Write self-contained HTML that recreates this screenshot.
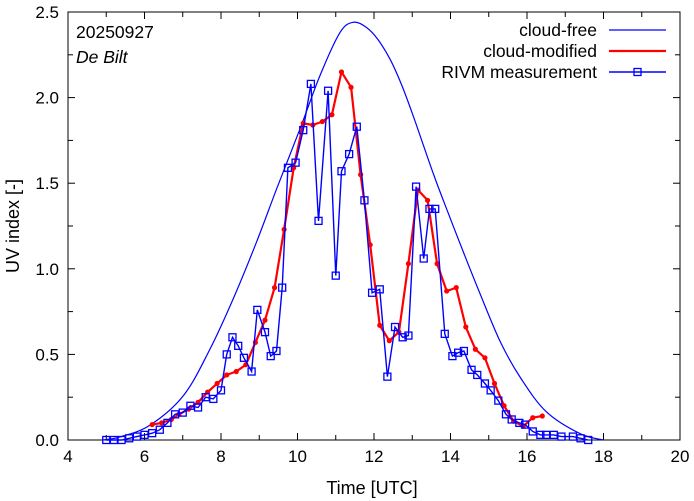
<!DOCTYPE html>
<html><head><meta charset="utf-8"><style>
body{margin:0;background:#fff}
svg{display:block;font-family:"Liberation Sans",sans-serif}
</style></head><body>
<svg id="c" width="694" height="501"></svg>
<script>
const clearT=[4.9,5.36,6.14,7.02,7.71,8.32,8.93,9.46,10.07,10.59,11.11,11.46,11.8,12.1,12.43,12.73,13.03,13.56,13.95,14.35,14.79,15.31,15.84,16.51,17.39,18.0];
const clearV=[0.0,0.018,0.086,0.26,0.53,0.825,1.157,1.47,1.82,2.13,2.38,2.44,2.41,2.34,2.22,2.07,1.89,1.55,1.32,1.09,0.845,0.57,0.36,0.164,0.037,0.0];
const modT=[6.2,6.45,6.7,6.9,7.15,7.4,7.65,7.9,8.15,8.4,8.65,8.9,9.15,9.4,9.65,9.9,10.15,10.4,10.65,10.9,11.15,11.4,11.65,11.9,12.15,12.4,12.65,12.9,13.15,13.4,13.65,13.9,14.15,14.4,14.65,14.9,15.15,15.4,15.65,15.9,16.15,16.4];
const modV=[0.09,0.10,0.12,0.15,0.18,0.22,0.28,0.33,0.38,0.40,0.44,0.57,0.70,0.89,1.23,1.59,1.85,1.84,1.86,1.90,2.15,2.06,1.55,1.14,0.67,0.58,0.63,1.03,1.46,1.40,1.03,0.87,0.89,0.66,0.53,0.48,0.33,0.20,0.11,0.08,0.13,0.14];
const measT=[5.0,5.2,5.4,5.6,5.8,6.0,6.2,6.4,6.6,6.8,7.0,7.2,7.4,7.6,7.8,8.0,8.15,8.3,8.45,8.6,8.8,8.95,9.15,9.3,9.45,9.6,9.75,9.95,10.15,10.35,10.55,10.8,11.0,11.15,11.35,11.55,11.75,11.95,12.15,12.35,12.55,12.75,12.9,13.1,13.3,13.45,13.6,13.85,14.05,14.2,14.35,14.55,14.7,14.9,15.05,15.25,15.45,15.6,15.8,15.95,16.15,16.35,16.5,16.7,16.9,17.2,17.4,17.6];
const measV=[0.0,0.0,0.0,0.01,0.02,0.03,0.04,0.06,0.10,0.15,0.16,0.20,0.19,0.25,0.24,0.29,0.50,0.60,0.55,0.48,0.40,0.76,0.63,0.49,0.52,0.89,1.59,1.62,1.81,2.08,1.28,2.04,0.96,1.57,1.67,1.83,1.40,0.86,0.88,0.37,0.66,0.60,0.61,1.48,1.06,1.35,1.35,0.62,0.49,0.51,0.52,0.41,0.38,0.33,0.29,0.23,0.15,0.12,0.10,0.09,0.05,0.03,0.03,0.03,0.02,0.02,0.01,0.0];
const xTicks=[4,6,8,10,12,14,16,18,20];
const yTicks=[0,0.5,1,1.5,2,2.5];
const yLabels=["0.0","0.5","1.0","1.5","2.0","2.5"];

const L=68,R=680,T=12,B=440;
const X=t=>L+(t-4)/16*(R-L), Y=v=>B-v/2.5*(B-T);
const svg=document.getElementById('c'),NS='http://www.w3.org/2000/svg';
function mk(tag,at,parent){const e=document.createElementNS(NS,tag);for(const k in at)e.setAttribute(k,at[k]);(parent||svg).appendChild(e);return e;}

const frame=mk('rect',{x:L,y:T,width:R-L,height:B-T,fill:'none',stroke:'#000','stroke-width':1});



xTicks.forEach((t,i)=>{
  const g=mk('g',{});
  
  
  mk('line',{x1:X(t),x2:X(t),y1:B,y2:B-7,stroke:'#000'},g);
  mk('line',{x1:X(t),x2:X(t),y1:T,y2:T+7,stroke:'#000'},g);
  if(i<xTicks.length-1){const m=t+1;
    mk('line',{x1:X(m),x2:X(m),y1:B,y2:B-5,stroke:'#000'},g);
    mk('line',{x1:X(m),x2:X(m),y1:T,y2:T+5,stroke:'#000'},g);}
  const tx=mk('text',{x:X(t),y:B+22,'text-anchor':'middle','font-size':17},g);tx.textContent=t;
});
yTicks.forEach((v,i)=>{
  const g=mk('g',{});
  
  
  mk('line',{x1:L,x2:L+7,y1:Y(v),y2:Y(v),stroke:'#000'},g);
  mk('line',{x1:R,x2:R-7,y1:Y(v),y2:Y(v),stroke:'#000'},g);
  if(i<yTicks.length-1){const m=v+0.25;
    mk('line',{x1:L,x2:L+5,y1:Y(m),y2:Y(m),stroke:'#000'},g);
    mk('line',{x1:R,x2:R-5,y1:Y(m),y2:Y(m),stroke:'#000'},g);}
  const tx=mk('text',{x:L-9,y:Y(v)+6,'text-anchor':'end','font-size':17},g);tx.textContent=yLabels[i];
});
const xl=mk('text',{x:372,y:494,'text-anchor':'middle','font-size':18});xl.textContent='Time  [UTC]';


const yl=mk('text',{x:0,y:0,'text-anchor':'middle','font-size':18,transform:'translate(19,226) rotate(-90)'});yl.textContent='UV index  [-]';



const d1=mk('text',{x:76,y:38,'font-size':17.5});d1.textContent='20250927';


const d2=mk('text',{x:76,y:63,'font-size':17.5,'font-style':'italic'});d2.textContent='De Bilt';



function smooth(ts,vs){const p=ts.map((t,i)=>[X(t),Y(vs[i])]);let d='M'+p[0][0]+','+p[0][1];
  for(let i=0;i<p.length-1;i++){const a=p[i-1]||p[i],b=p[i],c=p[i+1],e=p[i+2]||c;
    d+=' C'+(b[0]+(c[0]-a[0])/6)+','+(b[1]+(c[1]-a[1])/6)+' '+(c[0]-(e[0]-b[0])/6)+','+(c[1]-(e[1]-b[1])/6)+' '+c[0]+','+c[1];}
  return d;}
const pts=(ts,vs)=>ts.map((t,i)=>X(t).toFixed(1)+','+Y(vs[i]).toFixed(1)).join(' ');
const cf=mk('path',{d:smooth(clearT,clearV),fill:'none',stroke:'#0000ff','stroke-width':1.2});


const cm=mk('polyline',{points:pts(modT,modV),fill:'none',stroke:'#ff0000','stroke-width':2.2,'stroke-linejoin':'round'});


modT.forEach((t,i)=>{const c=mk('circle',{cx:X(t),cy:Y(modV[i]),r:2.6,fill:'#ff0000'});
  
  });
const ml=mk('polyline',{points:pts(measT,measV),fill:'none',stroke:'#0000ff','stroke-width':1.4});


measT.forEach((t,i)=>{const s=mk('rect',{x:X(t)-3.5,y:Y(measV[i])-3.5,width:7,height:7,fill:'none',stroke:'#0000ff','stroke-width':1.3});
  
  });

const leg=[['cloud-free','#0000ff',1.2,false],['cloud-modified','#ff0000',2.2,false],['RIVM measurement','#0000ff',1.4,true]];
leg.forEach((e,i)=>{const y=30+i*21;const g=mk('g',{});
  
  
  const t=mk('text',{x:597,y:y+6,'text-anchor':'end','font-size':17.5},g);t.textContent=e[0];
  mk('line',{x1:609,x2:666,y1:y,y2:y,stroke:e[1],'stroke-width':e[2]},g);
  if(e[3])mk('rect',{x:634,y:y-3.5,width:7,height:7,fill:'none',stroke:e[1],'stroke-width':1.3},g);
});
</script>
</body></html>
